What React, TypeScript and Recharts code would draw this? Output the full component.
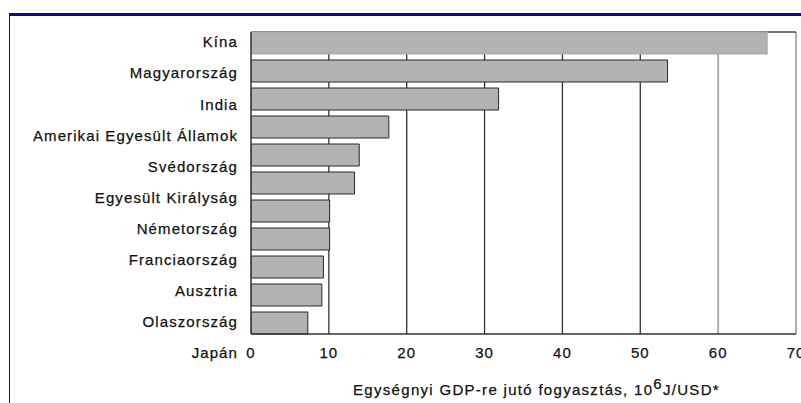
import React from 'react';
import { BarChart, Bar, Cell, XAxis, YAxis, CartesianGrid } from 'recharts';

const countries = [
  'Kína', 'Magyarország', 'India', 'Amerikai Egyesült Államok', 'Svédország',
  'Egyesült Királyság', 'Németország', 'Franciaország', 'Ausztria', 'Olaszország', 'Japán',
];
const consumption = [66.3, 53.5, 31.8, 17.7, 13.9, 13.3, 10.1, 10.1, 9.3, 9.1, 7.3];
const xTicks = [0, 10, 20, 30, 40, 50, 60, 70];

const data = countries.map((name, i) => ({ name, value: consumption[i] }));

const FONT = '"Liberation Sans", Arial, Helvetica, sans-serif';
const NAVY = '#0c0c8a';
const INK = '#111';

// gridline colours: the 60 and 70 lines are lighter in the original
function gridLine(props: any) {
  const { x1, y1, x2, y2, x, width, index } = props;
  const v = Math.round(((x1 - x) / width) * 70);
  if (v === 0) return <g key={`g-${index}`} />;
  const light = v >= 60;
  return (
    <g key={`g-${index}`}>
      <line x1={x1} y1={y1} x2={x2} y2={y2}
        stroke={light ? '#adadad' : '#333'} strokeWidth={light ? 2 : 1.3} />
      {v === 70 && (
        <line x1={x} y1={y1} x2={x + width} y2={y1} stroke="#4a4a4a" strokeWidth={1.5} />
      )}
    </g>
  );
}

function AxisTitle(props: any) {
  const { viewBox } = props;
  const cx = viewBox.x + viewBox.width / 2 + 13;
  return (
    <text x={cx} y={viewBox.y + 61} textAnchor="middle" fill={INK} stroke={INK} strokeWidth={0.25}
      style={{ fontFamily: FONT, fontSize: 15, letterSpacing: 1.3 }}>
      Egységnyi GDP-re jutó fogyasztás, 10
      <tspan dy={-6}>6</tspan>
      <tspan dy={6}>J/USD*</tspan>
    </text>
  );
}

export default function App() {
  return (
    <div style={{ position: 'absolute', left: 0, top: 0, width: 801, height: 403, background: '#fff', overflow: 'hidden' }}>
      <div style={{
        position: 'absolute', left: 9, top: 13, width: 792, height: 390,
        borderTop: `3px solid ${NAVY}`, borderLeft: `1px solid ${NAVY}`, boxSizing: 'border-box',
      }} />
      <div style={{ position: 'absolute', left: 0, top: 0 }}>
        <BarChart width={801} height={403} data={data} layout="vertical"
          margin={{ top: 32, right: 5, bottom: 19, left: 0 }}>
          <CartesianGrid horizontal={false} vertical={gridLine} />
          <XAxis type="number" domain={[0, 70]} ticks={xTicks} interval={0}
            allowDataOverflow tickLine={false} tickSize={0} tickMargin={13} height={50}
            axisLine={{ stroke: '#333', strokeWidth: 1.5 }}
            tick={{ fill: INK, stroke: INK, strokeWidth: 0.25, fontSize: 15, fontFamily: FONT, letterSpacing: 1 }}
            label={AxisTitle} />
          <YAxis yAxisId="names" type="category" dataKey="name" width={251}
            padding={{ top: -5.5, bottom: -34.5 }} interval={0}
            tickLine={false} tickSize={0} tickMargin={13}
            axisLine={{ stroke: '#333', strokeWidth: 1.5 }}
            tick={{ fill: INK, stroke: INK, strokeWidth: 0.25, fontSize: 15, fontFamily: FONT, letterSpacing: 1.1 }} />
          <YAxis yAxisId="bars" type="category" dataKey="name" hide width={0}
            padding={{ top: -3, bottom: -3 }} />
          <Bar yAxisId="bars" dataKey="value" barSize={22} fill="#b3b3b3"
            stroke="#2a2a2a" strokeWidth={1} isAnimationActive={false}>
            {data.map((d, i) => (
              <Cell key={d.name} stroke={i === 0 ? '#a8a8a8' : '#2a2a2a'} />
            ))}
          </Bar>
        </BarChart>
      </div>
    </div>
  );
}
